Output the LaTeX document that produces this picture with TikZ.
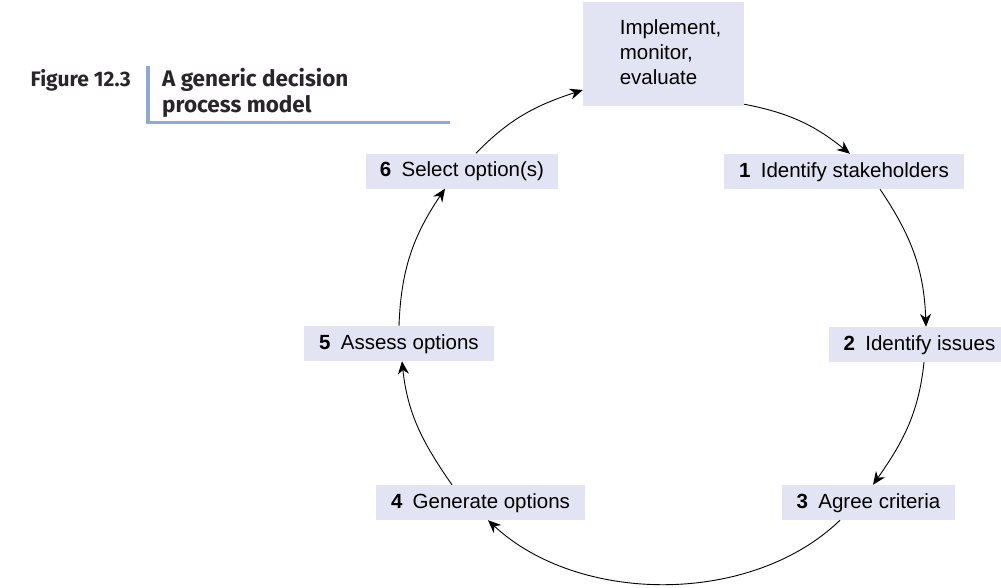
\documentclass[tikz,border=0pt]{standalone}
\usepackage{fontspec}
\setmainfont{Liberation Sans}
\newfontfamily\headfont{Fira Sans}
\usetikzlibrary{arrows.meta}
\definecolor{boxfill}{RGB}{226,228,243}
\definecolor{rulecol}{RGB}{143,168,216}
\definecolor{headcol}{RGB}{40,38,40}
\newcommand\stepno[1]{\textbf{#1}\hspace{0.5em}}
\begin{document}
\begin{tikzpicture}[x=1pt,y=1pt,
  boxbase/.style={fill=boxfill, inner sep=0pt, font=\fontsize{20.5}{25}\selectfont},
  stepbox/.style={boxbase, minimum height=35pt, text height=15pt, text depth=4pt},
  flow/.style={line width=0.9pt, -{Stealth[length=13pt,width=11pt]}},
  headtext/.style={text=headcol, inner sep=0pt}]
\useasboundingbox (0,0) rectangle (1001,-587);
\clip (0,0) rectangle (1001,-587);

% caption block
\fill[rulecol] (145.5,-66) rectangle (149.5,-124);
\fill[rulecol] (145.5,-121) rectangle (450,-124);
\node[headtext, anchor=base east, font=\headfont\bfseries\fontsize{21}{25}\selectfont] (fig) at (131,-86) {Figure 12.3};
\node[headtext, anchor=base west, align=left, font=\headfont\bfseries\fontsize{22.5}{26}\selectfont] (ttl) at (162,-112) {A generic decision\\process model};

% process steps
\node[boxbase, minimum width=161pt, minimum height=104pt] (imp) at (663.5,-54)
  {\raisebox{-4pt}{\hspace*{14pt}\begin{tabular}{@{}l@{}}Implement,\\monitor,\\evaluate\end{tabular}}};
\node[stepbox, minimum width=240pt] (b1) at (844,-171.5) {\stepno{1}Identify stakeholders};
\node[stepbox, minimum width=181pt] (b2) at (919.5,-344.5) {\stepno{2}Identify issues};
\node[stepbox, minimum width=173pt] (b3) at (868.5,-502.5) {\stepno{3}Agree criteria};
\node[stepbox, minimum width=209pt] (b4) at (480.5,-502.5) {\stepno{4}Generate options};
\node[stepbox, minimum width=190pt] (b5) at (399,-343.5) {\stepno{5}Assess options};
\node[stepbox, minimum width=192pt] (b6) at (462,-171) {\stepno{6}Select option(s)};

% the cycle
\draw[flow] ([yshift=2pt]imp.south east) to[out=-11,in=141] ([xshift=6pt]b1.north);
\draw[flow] ([xshift=36pt]b1.south) to[out=-56,in=92] ([xshift=6.5pt]b2.north);
\draw[flow] ([xshift=4.5pt]b2.south) to[out=-96,in=55] ([xshift=4.5pt]b3.north);
\draw[flow] ([xshift=-28.5pt]b3.south) to[out=-136,in=-43,looseness=0.9] ([xshift=7.5pt]b4.south);
\draw[flow] ([xshift=-28.5pt]b4.north) to[out=125,in=-84] ([xshift=3pt]b5.south);
\draw[flow] (b5.north) to[out=88,in=236] ([xshift=-17pt]b6.south);
\draw[flow] ([xshift=14pt]b6.north) to[out=46,in=198] ([yshift=-36pt]imp.west);
\end{tikzpicture}
\end{document}
